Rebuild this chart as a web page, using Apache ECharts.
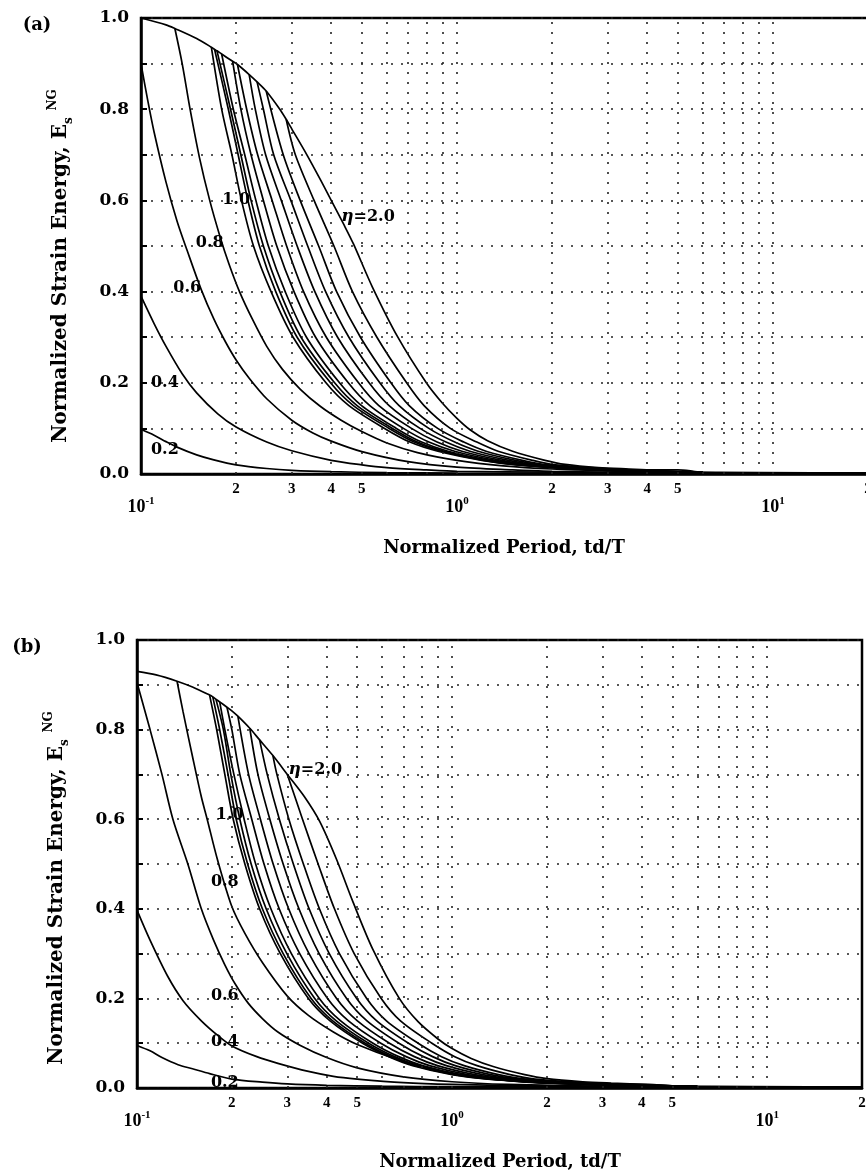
<!DOCTYPE html>
<html>
<head>
<meta charset="utf-8">
<script src="https://cdn.jsdelivr.net/npm/echarts/dist/echarts.min.js"></script>
<style>
  html, body { margin: 0; padding: 0; background: #fff; }
  #chart { width: 866px; height: 1176px; }
</style>
</head>
<body>
<div id="chart"></div>
<script>
// ---------------- DATA: panel (a) ----------------
const a02 = [[0.1,0.098],[0.11,0.085],[0.12,0.071],[0.13,0.059],[0.15,0.042],[0.17,0.031],[0.2,0.02],[0.25,0.012],[0.3,0.008],[0.4,0.005],[0.6,0.003],[1,0.002],[3,0.001],[20,0.001]];
const a04 = [[0.1,0.39],[0.11,0.33],[0.12,0.28],[0.135,0.22],[0.15,0.178],[0.175,0.132],[0.2,0.103],[0.25,0.07],[0.3,0.051],[0.4,0.03],[0.5,0.02],[0.6,0.014],[0.8,0.009],[1.0,0.006],[2,0.004],[3,0.003],[5,0.002],[20,0.001]];
const a06 = [[0.1,0.9],[0.105,0.82],[0.11,0.75],[0.12,0.64],[0.13,0.555],[0.14,0.49],[0.155,0.405],[0.17,0.34],[0.185,0.29],[0.2,0.25],[0.22,0.21],[0.25,0.165],[0.3,0.118],[0.35,0.09],[0.4,0.072],[0.5,0.049],[0.7,0.027],[1,0.015],[1.5,0.009],[2,0.006],[3,0.004],[5,0.003],[20,0.001]];
const a08 = [[0.128,0.977],[0.135,0.9],[0.143,0.8],[0.153,0.695],[0.165,0.6],[0.178,0.52],[0.19,0.46],[0.205,0.4],[0.225,0.34],[0.25,0.28],[0.28,0.23],[0.32,0.185],[0.37,0.148],[0.43,0.118],[0.5,0.093],[0.6,0.068],[0.75,0.047],[1.0,0.03],[1.4,0.018],[2,0.011],[3,0.007],[5,0.004],[20,0.002]];
const a10 = [[0.167,0.936],[0.18,0.8],[0.194,0.7],[0.208,0.6],[0.227,0.5],[0.258,0.4],[0.303,0.3],[0.385,0.2],[0.455,0.15],[0.59,0.1],[0.71,0.07],[0.87,0.05],[1.2,0.03],[1.55,0.02],[2.5,0.01],[4,0.006],[6,0.003],[20,0.002]];
const a11 = [[0.171,0.931],[0.189,0.8],[0.203,0.7],[0.218,0.6],[0.237,0.5],[0.267,0.4],[0.312,0.3],[0.398,0.2],[0.47,0.15],[0.61,0.1],[0.733,0.07],[0.893,0.05],[1.216,0.03],[1.565,0.02],[2.52,0.01],[4,0.006],[6,0.003],[20,0.002]];
const a12 = [[0.174,0.928],[0.192,0.8],[0.207,0.7],[0.223,0.6],[0.244,0.5],[0.275,0.4],[0.321,0.3],[0.41,0.2],[0.483,0.15],[0.625,0.1],[0.75,0.07],[0.912,0.05],[1.239,0.03],[1.587,0.02],[2.56,0.01],[4,0.006],[6,0.003],[20,0.002]];
const a13 = [[0.18,0.921],[0.196,0.8],[0.213,0.7],[0.231,0.6],[0.253,0.5],[0.286,0.4],[0.334,0.3],[0.425,0.2],[0.499,0.15],[0.643,0.1],[0.773,0.07],[0.937,0.05],[1.268,0.03],[1.615,0.02],[2.6,0.01],[4,0.006],[6,0.003],[20,0.002]];
const a14 = [[0.195,0.905],[0.207,0.8],[0.223,0.7],[0.244,0.6],[0.269,0.5],[0.305,0.4],[0.357,0.3],[0.453,0.2],[0.53,0.15],[0.677,0.1],[0.815,0.07],[0.983,0.05],[1.321,0.03],[1.667,0.02],[2.68,0.01],[4,0.006],[6,0.003],[20,0.002]];
const a15 = [[0.202,0.898],[0.216,0.8],[0.234,0.7],[0.26,0.6],[0.289,0.5],[0.327,0.4],[0.386,0.3],[0.488,0.2],[0.566,0.15],[0.718,0.1],[0.865,0.07],[1.037,0.05],[1.384,0.03],[1.726,0.02],[2.77,0.01],[4.2,0.006],[6,0.003],[20,0.002]];
const a16 = [[0.22,0.876],[0.23,0.8],[0.248,0.7],[0.278,0.6],[0.312,0.5],[0.355,0.4],[0.419,0.3],[0.527,0.2],[0.61,0.15],[0.764,0.1],[0.923,0.07],[1.099,0.05],[1.455,0.03],[1.794,0.02],[2.88,0.01],[4.2,0.006],[6,0.003],[20,0.002]];
const a17 = [[0.233,0.86],[0.244,0.8],[0.263,0.7],[0.298,0.6],[0.337,0.5],[0.384,0.4],[0.455,0.3],[0.57,0.2],[0.656,0.15],[0.815,0.1],[0.984,0.07],[1.167,0.05],[1.531,0.03],[1.865,0.02],[2.99,0.01],[4.2,0.007],[6,0.003],[20,0.002]];
const a18 = [[0.249,0.84],[0.282,0.7],[0.319,0.6],[0.365,0.5],[0.416,0.4],[0.495,0.3],[0.618,0.2],[0.706,0.15],[0.869,0.1],[1.051,0.07],[1.236,0.05],[1.611,0.03],[1.937,0.02],[3.1,0.01],[4.2,0.008],[6,0.003],[20,0.002]];
const a19 = [[0.288,0.778],[0.308,0.7],[0.353,0.6],[0.408,0.5],[0.467,0.4],[0.558,0.3],[0.693,0.2],[0.787,0.15],[0.953,0.1],[1.156,0.07],[1.349,0.05],[1.734,0.03],[2.05,0.02],[3.27,0.01],[4.2,0.008],[6,0.003],[20,0.002]];
const a20 = [[0.1,1.0],[0.12,0.985],[0.128,0.977],[0.15,0.955],[0.167,0.936],[0.171,0.931],[0.174,0.928],[0.18,0.921],[0.195,0.905],[0.202,0.898],[0.22,0.876],[0.233,0.86],[0.249,0.84],[0.275,0.8],[0.288,0.778],[0.3,0.757],[0.335,0.7],[0.37,0.645],[0.4,0.6],[0.44,0.545],[0.47,0.505],[0.54,0.41],[0.65,0.3],[0.8,0.2],[0.9,0.155],[1.0,0.122],[1.1,0.097],[1.25,0.073],[1.5,0.05],[1.9,0.03],[2.2,0.021],[2.8,0.014],[3.5,0.011],[4.2,0.009],[5.0,0.009],[5.6,0.006],[6.0,0.003],[10,0.002],[20,0.002]];

// ---------------- DATA: panel (b) ----------------
const b02 = [[0.1,0.095],[0.11,0.083],[0.12,0.068],[0.135,0.052],[0.15,0.043],[0.17,0.032],[0.2,0.02],[0.25,0.013],[0.3,0.009],[0.4,0.006],[0.6,0.004],[1,0.003],[3,0.002],[20,0.001]];
const b04 = [[0.1,0.397],[0.11,0.33],[0.125,0.25],[0.14,0.195],[0.16,0.15],[0.18,0.118],[0.2,0.094],[0.24,0.07],[0.28,0.055],[0.35,0.037],[0.42,0.026],[0.5,0.02],[0.7,0.012],[1,0.008],[2,0.004],[5,0.002],[20,0.001]];
const b06 = [[0.1,0.905],[0.11,0.8],[0.12,0.7],[0.13,0.6],[0.145,0.5],[0.16,0.4],[0.175,0.33],[0.19,0.275],[0.205,0.232],[0.225,0.19],[0.25,0.155],[0.28,0.125],[0.33,0.095],[0.4,0.068],[0.5,0.045],[0.7,0.025],[1,0.014],[1.5,0.008],[3,0.004],[20,0.001]];
const b08 = [[0.134,0.908],[0.14,0.84],[0.15,0.74],[0.16,0.65],[0.167,0.6],[0.18,0.51],[0.2,0.405],[0.22,0.345],[0.25,0.28],[0.3,0.205],[0.35,0.162],[0.42,0.125],[0.5,0.097],[0.68,0.062],[0.9,0.039],[1.2,0.024],[1.6,0.015],[2,0.011],[3,0.007],[5,0.004],[20,0.002]];
const b10 = [[0.17,0.877],[0.179,0.8],[0.19,0.7],[0.202,0.6],[0.22,0.5],[0.245,0.4],[0.285,0.3],[0.35,0.2],[0.41,0.15],[0.52,0.1],[0.63,0.07],[0.75,0.05],[1.0,0.03],[1.3,0.02],[2.2,0.01],[4,0.005],[6,0.003],[20,0.002]];
const b11 = [[0.174,0.873],[0.183,0.8],[0.1945,0.7],[0.2065,0.6],[0.2244,0.5],[0.25,0.4],[0.291,0.3],[0.357,0.2],[0.418,0.15],[0.53,0.1],[0.641,0.07],[0.763,0.05],[1.016,0.03],[1.317,0.02],[2.22,0.01],[4,0.005],[6,0.003],[20,0.002]];
const b12 = [[0.178,0.868],[0.188,0.8],[0.1985,0.7],[0.212,0.6],[0.2303,0.5],[0.257,0.4],[0.299,0.3],[0.3665,0.2],[0.429,0.15],[0.5435,0.1],[0.6565,0.07],[0.781,0.05],[1.038,0.03],[1.34,0.02],[2.257,0.01],[4,0.005],[6,0.003],[20,0.002]];
const b13 = [[0.183,0.862],[0.19,0.8],[0.203,0.7],[0.2188,0.6],[0.238,0.5],[0.266,0.4],[0.309,0.3],[0.379,0.2],[0.443,0.15],[0.561,0.1],[0.677,0.07],[0.805,0.05],[1.066,0.03],[1.369,0.02],[2.3,0.01],[4,0.005],[6,0.003],[20,0.002]];
const b14 = [[0.193,0.85],[0.2,0.8],[0.212,0.7],[0.2313,0.6],[0.253,0.5],[0.2827,0.4],[0.3284,0.3],[0.4025,0.2],[0.469,0.15],[0.594,0.1],[0.7145,0.07],[0.848,0.05],[1.118,0.03],[1.423,0.02],[2.378,0.01],[4,0.005],[6,0.003],[20,0.002]];
const b15 = [[0.209,0.83],[0.226,0.7],[0.2464,0.6],[0.2705,0.5],[0.3029,0.4],[0.3516,0.3],[0.43,0.2],[0.5006,0.15],[0.633,0.1],[0.759,0.07],[0.899,0.05],[1.178,0.03],[1.486,0.02],[2.47,0.01],[4.2,0.005],[6,0.003],[20,0.002]];
const b16 = [[0.228,0.803],[0.242,0.7],[0.264,0.6],[0.291,0.5],[0.3266,0.4],[0.3785,0.3],[0.4627,0.2],[0.537,0.15],[0.6784,0.1],[0.811,0.07],[0.959,0.05],[1.249,0.03],[1.558,0.02],[2.573,0.01],[4.2,0.005],[6,0.003],[20,0.002]];
const b17 = [[0.245,0.777],[0.259,0.7],[0.283,0.6],[0.3135,0.5],[0.3518,0.4],[0.4076,0.3],[0.498,0.2],[0.5767,0.15],[0.7275,0.1],[0.867,0.07],[1.023,0.05],[1.324,0.03],[1.633,0.02],[2.682,0.01],[4.2,0.006],[6,0.003],[20,0.002]];
const b18 = [[0.27,0.742],[0.278,0.7],[0.3034,0.6],[0.3374,0.5],[0.3793,0.4],[0.439,0.3],[0.5358,0.2],[0.619,0.15],[0.78,0.1],[0.926,0.07],[1.092,0.05],[1.403,0.03],[1.713,0.02],[2.795,0.01],[4.2,0.007],[6,0.003],[20,0.002]];
const b19 = [[0.3,0.7],[0.3352,0.6],[0.3757,0.5],[0.4233,0.4],[0.489,0.3],[0.5958,0.2],[0.686,0.15],[0.863,0.1],[1.02,0.07],[1.2,0.05],[1.528,0.03],[1.835,0.02],[2.968,0.01],[4.2,0.007],[6,0.003],[20,0.002]];
const b20 = [[0.1,0.93],[0.115,0.922],[0.134,0.908],[0.15,0.895],[0.17,0.877],[0.174,0.873],[0.178,0.868],[0.183,0.862],[0.193,0.85],[0.2,0.842],[0.209,0.83],[0.228,0.803],[0.245,0.777],[0.27,0.742],[0.3,0.7],[0.34,0.65],[0.38,0.595],[0.43,0.51],[0.485,0.415],[0.56,0.31],[0.68,0.2],[0.78,0.148],[0.9,0.11],[1.0,0.088],[1.15,0.066],[1.35,0.048],[1.7,0.03],[2.0,0.021],[2.6,0.014],[3.2,0.011],[4.2,0.008],[5,0.005],[6,0.003],[20,0.002]];

const etaNames = ['0.2','0.4','0.6','0.8','1.0','1.1','1.2','1.3','1.4','1.5','1.6','1.7','1.8','1.9','2.0'];
const curvesA = [a02,a04,a06,a08,a10,a11,a12,a13,a14,a15,a16,a17,a18,a19,a20];
const curvesB = [b02,b04,b06,b08,b10,b11,b12,b13,b14,b15,b16,b17,b18,b19,b20];

// curve labels [x, y, text]
const labelsA = [[0.119,0.053,'0.2'],[0.119,0.2,'0.4'],[0.14,0.408,'0.6'],[0.165,0.507,'0.8'],[0.2,0.601,'1.0'],[0.523,0.564,'η=2.0']];
const labelsB = [[0.19,0.012,'0.2'],[0.19,0.103,'0.4'],[0.19,0.205,'0.6'],[0.19,0.46,'0.8'],[0.197,0.609,'1.0'],[0.368,0.71,'η=2.0']];

// axis tick labels
const minorTickVals = [0.2,0.3,0.4,0.5,2,3,4,5,20];
const minorTickText = ['2','3','4','5','2','3','4','5','2'];
const decadeVals = [0.1,1,10];
const decadeExp = ['-1','0','1'];
const gridXVals = [0.2,0.3,0.4,0.5,0.6,0.7,0.8,0.9,1,2,3,4,5,6,7,8,9,10];
const yMin = 0, yMax = 1, yStep = 0.1;

// ---------------- CHART ----------------
const chart = echarts.init(document.getElementById('chart'), null, {renderer: 'canvas'});
const SERIF = 'DejaVu Serif';
const TIMES = 'Liberation Serif';

function panelAxes(gi) {
  const x = {
    gridIndex: gi, type: 'log', logBase: 10, min: 0.1, max: 20,
    axisLine: {show: true, onZero: false, lineStyle: {color: '#000', width: 2.5}},
    axisTick: {show: false}, axisLabel: {show: false},
    splitLine: {show: false}, minorTick: {show: false}, minorSplitLine: {show: false}
  };
  const y = {
    gridIndex: gi, type: 'value', min: yMin, max: yMax, interval: yStep,
    axisLine: {show: true, lineStyle: {color: '#000', width: 2.5}},
    axisTick: {show: true, inside: true, length: 6, lineStyle: {color: '#000', width: 2}},
    axisLabel: {
      color: '#000', fontFamily: SERIF, fontWeight: 'bold', fontSize: 17, margin: 12,
      formatter: v => (Math.round(v * 10) % 2 === 0 ? v.toFixed(1) : '')
    },
    splitLine: {show: true, lineStyle: {type: [2, 8], color: '#222', width: 1.6}}
  };
  return {x, y};
}
const axA = panelAxes(0), axB = panelAxes(1);

const series = [];
function addPanel(gi, curves, labels) {
  curves.forEach((d, i) => {
    series.push({
      name: (gi ? 'b ' : 'a ') + etaNames[i], type: 'line', xAxisIndex: gi, yAxisIndex: gi,
      data: d, symbol: 'none', showSymbol: false, smooth: 0.3,
      lineStyle: {color: '#000', width: 1.7}, silent: true, animation: false, z: 3
    });
  });
  // vertical dotted grid lines
  series.push({
    type: 'scatter', xAxisIndex: gi, yAxisIndex: gi, data: [[0.1, 0]], symbolSize: 0, silent: true,
    animation: false, z: 1,
    markLine: {
      silent: true, symbol: ['none', 'none'], label: {show: false}, animation: false,
      lineStyle: {type: [2, 8], color: '#222', width: 1.6},
      data: gridXVals.map(v => ({xAxis: v}))
    }
  });
  const labelBase = {color: '#000', textBorderWidth: 0, textShadowBlur: 0, opacity: 1};
  // curve labels
  series.push({
    type: 'scatter', xAxisIndex: gi, yAxisIndex: gi, data: labels, symbolSize: 0, silent: true,
    animation: false, clip: false, z: 2, itemStyle: {opacity: 1},
    label: Object.assign({
      show: true, position: 'inside', fontFamily: SERIF, fontWeight: 'bold', fontSize: 16,
      formatter: p => p.value[2].startsWith('η') ? '{i|η}' + p.value[2].slice(1) : p.value[2],
      rich: {i: {fontFamily: SERIF, fontStyle: 'italic', fontWeight: 'bold', fontSize: 17, color: '#000'}}
    }, labelBase)
  });
  // minor x tick labels
  series.push({
    type: 'scatter', xAxisIndex: gi, yAxisIndex: gi, symbolSize: 0, silent: true, animation: false, clip: false,
    itemStyle: {opacity: 1},
    data: minorTickVals.map((v, i) => [v, 0, minorTickText[i]]),
    label: Object.assign({show: true, position: 'bottom', distance: 8, fontFamily: TIMES, fontWeight: 'bold', fontSize: 15,
      formatter: p => p.value[2]}, labelBase)
  });
  // decade labels
  series.push({
    type: 'scatter', xAxisIndex: gi, yAxisIndex: gi, symbolSize: 0, silent: true, animation: false, clip: false,
    itemStyle: {opacity: 1},
    data: decadeVals.map((v, i) => [v, 0, decadeExp[i]]),
    label: Object.assign({show: true, position: 'bottom', distance: 22,
      formatter: p => '{b|10}{s|' + p.value[2] + '}',
      rich: {
        b: {fontFamily: TIMES, fontWeight: 'bold', fontSize: 18, lineHeight: 22, color: '#000'},
        s: {fontFamily: TIMES, fontWeight: 'bold', fontSize: 11, lineHeight: 11, verticalAlign: 'top', color: '#000'}
      }}, labelBase)
  });
}
addPanel(0, curvesA, labelsA);
addPanel(1, curvesB, labelsB);

const yTitleRich = {
  sub: {fontFamily: SERIF, fontWeight: 'bold', fontSize: 12, lineHeight: 12, verticalAlign: 'bottom', fill: '#000'},
  sup: {fontFamily: SERIF, fontWeight: 'bold', fontSize: 12, lineHeight: 12, verticalAlign: 'top', fill: '#000'}
};
function yTitle(x, y) {
  return {type: 'text', x: x, y: y, rotation: Math.PI / 2, silent: true,
    style: {text: 'Normalized Strain Energy, E{sub|s} {sup|NG}', textAlign: 'center', textVerticalAlign: 'middle',
      fontFamily: SERIF, fontWeight: 'bold', fontSize: 20, lineHeight: 28, fill: '#000', rich: yTitleRich}};
}
function xTitle(x, y) {
  return {type: 'text', x: x, y: y, silent: true,
    style: {text: 'Normalized Period, td/T', textAlign: 'center', textVerticalAlign: 'middle',
      fontFamily: SERIF, fontWeight: 'bold', fontSize: 18, fill: '#000'}};
}
function panelTag(t, x, y) {
  return {type: 'text', x: x, y: y, silent: true,
    style: {text: t, textAlign: 'center', textVerticalAlign: 'middle',
      fontFamily: SERIF, fontWeight: 'bold', fontSize: 18, fill: '#000'}};
}

chart.setOption({
  backgroundColor: '#fff',
  animation: false,
  grid: [
    {left: 141, top: 18, width: 727, height: 456, show: true, borderColor: '#000', borderWidth: 2.5, backgroundColor: 'transparent', containLabel: false, outerBoundsMode: 'none'},
    {left: 137, top: 640, width: 725, height: 448, show: true, borderColor: '#000', borderWidth: 2.5, backgroundColor: 'transparent', containLabel: false, outerBoundsMode: 'none'}
  ],
  xAxis: [axA.x, axB.x],
  yAxis: [axA.y, axB.y],
  series: series,
  graphic: [
    panelTag('(a)', 37, 25), panelTag('(b)', 27, 647),
    yTitle(61, 266), yTitle(57, 888),
    xTitle(504, 548), xTitle(500, 1162)
  ]
});
</script>
</body>
</html>
